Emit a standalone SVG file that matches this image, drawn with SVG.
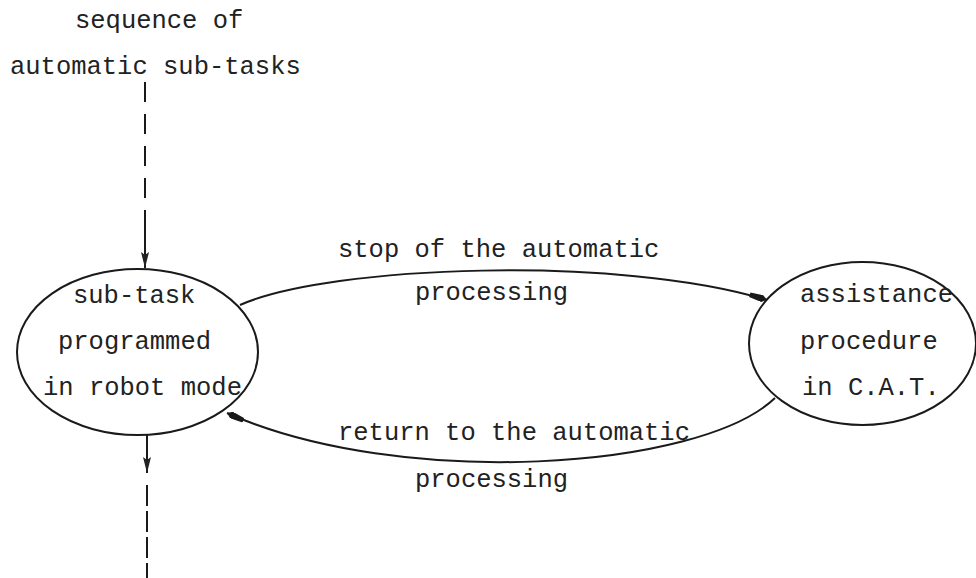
<svg xmlns="http://www.w3.org/2000/svg" width="976" height="578" viewBox="0 0 976 578">
<defs>
<style>
text{font-family:"Liberation Mono","DejaVu Sans Mono",monospace;font-size:25.5px;fill:#222}
.node{fill:#fff;stroke:#1a1a1a;stroke-width:2}
.conn{fill:none;stroke:#1a1a1a;stroke-width:2}
.dash{fill:none;stroke:#1a1a1a;stroke-width:2;stroke-dasharray:20 12}
.dash2{fill:none;stroke:#1a1a1a;stroke-width:2;stroke-dasharray:21 5}
</style>
<marker id="ah" viewBox="0 0 18 7" refX="18" refY="3.5" markerWidth="18" markerHeight="7" markerUnits="userSpaceOnUse" orient="auto">
<path d="M0,1.2 L13,0 L18,3.5 L13,7 L0,5.8 z" fill="#1a1a1a"/>
</marker>
<marker id="av" viewBox="0 0 16 10" refX="16" refY="5" markerWidth="16" markerHeight="10" markerUnits="userSpaceOnUse" orient="auto">
<path d="M0,1 L16,5 L0,9 L3,5 z" fill="#222"/>
</marker>
</defs>
<rect width="976" height="578" fill="#fff"/>
<g id="label-top">
<text x="75" y="28">sequence of</text>
<text x="10" y="74">automatic sub-tasks</text>
</g>
<g id="connectors">
<line class="dash" x1="145" y1="82" x2="145" y2="200"/>
<line class="conn" x1="145" y1="210" x2="145" y2="268" marker-end="url(#av)"/>
<line class="conn" x1="147" y1="435" x2="147" y2="473" marker-end="url(#av)"/>
<line class="dash2" x1="147" y1="485" x2="147" y2="578"/>
<path class="conn" d="M240,305 C330,265 620,255 767,300" marker-end="url(#ah)"/>
<path class="conn" d="M775,398 C700,470 400,490 227,413" marker-end="url(#ah)"/>
<text x="338" y="257">stop of the automatic</text>
<text x="415" y="300">processing</text>
<text x="338" y="440">return to the automatic</text>
<text x="415" y="487">processing</text>
</g>
<g id="node-subtask">
<ellipse class="node" cx="137.5" cy="352" rx="120.5" ry="83"/>
<text x="73" y="303">sub-task</text>
<text x="58" y="349">programmed</text>
<text x="43" y="395">in robot mode</text>
</g>
<g id="node-assistance">
<ellipse class="node" cx="862.5" cy="343.5" rx="113.5" ry="81.5"/>
<text x="800" y="302">assistance</text>
<text x="800" y="349">procedure</text>
<text x="802" y="395">in C.A.T.</text>
</g>
</svg>
